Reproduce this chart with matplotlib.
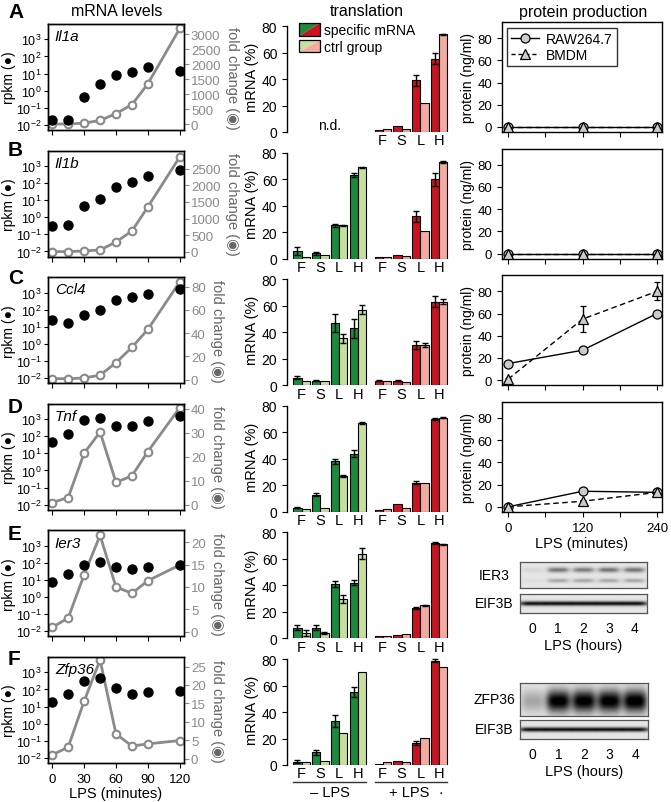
import numpy as np
import matplotlib
matplotlib.use('Agg')
import matplotlib.pyplot as plt
from matplotlib.patches import Polygon, Rectangle, Patch
from matplotlib.legend_handler import HandlerBase
from matplotlib.lines import Line2D
import matplotlib.transforms as mtrans
from matplotlib.ticker import FixedLocator, NullLocator

plt.rcParams['font.family'] = ['Liberation Sans', 'DejaVu Sans']
plt.rcParams['mathtext.default'] = 'regular'
plt.rcParams['axes.linewidth'] = 1.0
plt.rcParams['xtick.major.size'] = 3.5
plt.rcParams['ytick.major.size'] = 3.5

# ---------------- data ----------------
genes = ['Il1a', 'Il1b', 'Ccl4', 'Tnf', 'Ier3', 'Zfp36']
minutes = [0, 15, 30, 45, 60, 75, 90, 120]

rpkm_il1a = [0.02, 0.02, 0.4, 2.5, 8.0, 12, 25, 15]
rpkm_il1b = [0.3, 0.35, 4.5, 12, 60, 110, 250, 600]
rpkm_ccl4 = [25, 17, 50, 100, 350, 530, 800, 1700]
rpkm_tnf = [47, 135, 920, 1140, 390, 425, 810, 1540]
rpkm_ier3 = [7.4, 21, 80, 120, 60, 43, 60, 80]
rpkm_zfp36 = [18, 55, 330, 450, 125, 54, 70, 77]

fold_il1a = [1, 1, 30, 120, 350, 650, 1350, 3200]
fold_il1b = [1, 1, 20, 50, 290, 625, 1350, 2860]
fold_ccl4 = [1, 0.8, 1.5, 3.9, 14.6, 27.8, 43.2, 84]
fold_tnf = [1, 3.1, 21.5, 30.3, 9.4, 12.1, 22.2, 40.4]
fold_ier3 = [1, 3.1, 12.7, 21.5, 10, 8.6, 11.4, 14.9]
fold_zfp36 = [1, 3.1, 15.6, 26.8, 6.7, 3.4, 4.0, 4.9]

rpkm_all = [rpkm_il1a, rpkm_il1b, rpkm_ccl4, rpkm_tnf, rpkm_ier3, rpkm_zfp36]
fold_all = [fold_il1a, fold_il1b, fold_ccl4, fold_tnf, fold_ier3, fold_zfp36]
fold_ticks = [list(range(0, 3001, 500)), list(range(0, 2501, 500)), list(range(0, 81, 20)),
              list(range(0, 41, 10)), list(range(0, 21, 5)), list(range(0, 26, 5))]
fold_ylims = [(-200, 3350), (-150, 3050), (-3, 88), (-2, 42), (-1, 22.6), (-1.2, 27.6)]

fractions = ['F', 'S', 'L', 'H']
spec_minus_lps = [None, [6, 4, 25, 63], [5.8, 3.3, 46.8, 43], [3, 13, 38, 44], [8, 8, 41, 42], [2.5, 9.5, 33, 55]]
spec_minus_err = [None, [3, 1, 1, 1.5], [1, 0.5, 6.8, 7], [0.5, 1, 2, 3], [2, 2, 2, 2], [1, 2, 4.5, 4]]
ctrl_minus_lps = [None, [1.5, 3, 25, 69], [3.3, 3.3, 35.5, 57], [2, 3, 27, 67], [4, 4, 30, 64], [2.5, 3.2, 24.5, 70]]
ctrl_minus_err = [None, [0, 0, 0.5, 0.5], [0, 0, 3.5, 3.5], [0, 0, 1, 1], [2, 1, 3, 4], [0, 0, 0, 0]]
spec_plus_lps = [[1.3, 4.5, 39, 55.3], [1, 3, 32, 60], [3.3, 3.3, 30.2, 63], [1, 6, 22, 70], [2, 2.5, 23, 72], [0.8, 3.2, 16.3, 78.8]]
spec_plus_err = [[0, 0, 4.3, 4.3], [0, 0, 4, 5], [0.5, 0.5, 3, 4], [0, 0, 1, 1], [0, 0, 1, 0.5], [0, 0, 1.5, 1]]
ctrl_plus_lps = [[2, 2.5, 21.9, 73.7], [1.5, 2, 21, 73], [2.8, 2.5, 30.2, 63], [2, 3, 22, 71], [2, 3, 25, 71], [2, 2.5, 20.5, 73.8]]
ctrl_plus_err = [[0, 0, 0, 0.5], [0, 0, 0, 0.5], [0, 0, 1.5, 2], [0, 0, 0, 0.5], [0, 0, 0.5, 0.5], [0, 0, 0, 0]]

protein_min = [0, 120, 240]
raw_protein = [[0, 0, 0], [0, 0, 0], [15, 27, 60], [0, 14, 13]]
raw_err = [[0, 0, 0], [0, 0, 0], [2, 1, 1], [0, 1, 1]]
bmdm_protein = [[0, 0, 0], [0, 0, 0], [1, 55, 80], [0, 5, 13]]
bmdm_err = [[0, 0, 0], [0, 0, 0], [1, 12, 8], [0, 1, 1]]

hours = ['0', '1', '2', '3', '4']
ier3_upper = [0.06, 0.45, 0.42, 0.45, 0.45]
ier3_lower = [0.03, 0.25, 0.25, 0.24, 0.25]
eif3b_1 = [0.85, 0.85, 0.85, 0.85, 0.85]
zfp36_band = [0.25, 0.95, 0.95, 0.95, 0.97]
eif3b_2 = [0.85, 0.85, 0.85, 0.85, 0.85]

# ---------------- style ----------------
GRAY = '#8a8a8a'
DKGREEN = '#1b8a3c'
LTGREEN = '#c6df9c'
DKRED = '#c8141f'
PINK = '#f3aaa2'

W, H = 671, 803
fig = plt.figure(figsize=(W / 100, H / 100), dpi=100)


def add_ax(left, top, width, height):
    return fig.add_axes([left / W, 1 - (top + height) / H, width / W, height / H])


ROW = 126.6
letters = ['A', 'B', 'C', 'D', 'E', 'F']
letter_y = [12, 150, 278, 408, 535, 660]
for L, y in zip(letters, letter_y):
    fig.text(8 / W, 1 - y / H, L, fontsize=15, fontweight='bold', va='center', ha='left')

fig.text(117 / W, 1 - 12 / H, 'mRNA levels', fontsize=11.5, ha='center', va='center')
fig.text(367 / W, 1 - 12 / H, 'translation', fontsize=11.5, ha='center', va='center')
fig.text(583 / W, 1 - 13 / H, 'protein production', fontsize=11.5, ha='center', va='center')

# ---------------- left column ----------------
for r, gene in enumerate(genes):
    ax = add_ax(48, 25 + ROW * r, 136, 106)
    ax.set_yscale('log')
    ax.set_ylim(10 ** -2.3, 10 ** 3.9)
    ax.set_xlim(-4, 124)
    ax.yaxis.set_major_locator(FixedLocator([1e-2, 1e-1, 1e0, 1e1, 1e2, 1e3]))
    ax.yaxis.set_minor_locator(NullLocator())
    ax.set_xticks([0, 30, 60, 90, 120])
    ax.tick_params(axis='y', labelsize=9, length=3, pad=1.5)
    ax.tick_params(axis='x', labelsize=9.5, length=3.5)
    ax2 = ax.twinx()
    ax2.plot(minutes, fold_all[r], '-o', color=GRAY, lw=2, mfc='white', mec=GRAY, mew=1.5, ms=5.5)
    ax2.set_ylim(*fold_ylims[r])
    ax2.set_yticks(fold_ticks[r])
    ax2.tick_params(axis='y', colors=GRAY, labelsize=9.5, length=3.5, pad=1.5)
    ax2.spines['right'].set_color('#555555')
    ax.plot(minutes, rpkm_all[r], 'o', color='k', ms=6.5, zorder=5)
    ax.set_zorder(ax2.get_zorder() + 1)
    ax.patch.set_visible(False)
    ax.set_ylabel('rpkm (●)', fontsize=10, labelpad=0)
    ax2.set_ylabel('fold change (◉)', fontsize=10.5, rotation=270, va='bottom', color='#666666', labelpad=3)
    ax.text(0.05, 0.95, gene, transform=ax.transAxes, style='italic', fontsize=11, va='top', ha='left')
    if r == len(genes) - 1:
        ax.set_xlabel('LPS (minutes)', fontsize=10.5, labelpad=1)
    else:
        ax.set_xticklabels([])


# ---------------- middle column ----------------
class SplitHandler(HandlerBase):
    def __init__(self, c1, c2):
        super().__init__()
        self.c1, self.c2 = c1, c2

    def create_artists(self, legend, orig_handle, xdescent, ydescent, width, height, fontsize, trans):
        x0, y0 = -xdescent, -ydescent
        t1 = Polygon([[x0, y0], [x0, y0 + height], [x0 + width, y0 + height]], closed=True,
                     fc=self.c1, ec='none', transform=trans)
        t2 = Polygon([[x0, y0], [x0 + width, y0], [x0 + width, y0 + height]], closed=True,
                     fc=self.c2, ec='none', transform=trans)
        b = Rectangle((x0, y0), width, height, fc='none', ec='k', lw=0.9, transform=trans)
        return [t1, t2, b]


minus_pos = np.array([0, 1, 2, 3])
plus_pos = np.array([4.3, 5.3, 6.3, 7.3])
bw = 0.43


def draw_bars(ax, pos, spec, serr, ctrl, cerr, cs, cc):
    ax.bar(pos - bw / 2, spec, bw, color=cs, edgecolor='k', lw=0.8)
    ax.bar(pos + bw / 2, ctrl, bw, color=cc, edgecolor='k', lw=0.8)
    for p, v, e in zip(pos - bw / 2, spec, serr):
        if e > 0:
            ax.errorbar(p, v, yerr=e, fmt='none', ecolor='k', elinewidth=1, capsize=2.5, capthick=1)
    for p, v, e in zip(pos + bw / 2, ctrl, cerr):
        if e > 0:
            ax.errorbar(p, v, yerr=e, fmt='none', ecolor='k', elinewidth=1, capsize=2.5, capthick=1)


for r in range(6):
    ax = add_ax(287, 22 + ROW * r, 162, 111)
    ax.set_ylim(0, 83.8)
    ax.set_xlim(-0.77, 7.81)
    for s in ['top', 'right', 'bottom']:
        ax.spines[s].set_visible(False)
    ax.spines['left'].set_bounds(0, 80)
    ax.set_yticks([0, 20, 40, 60, 80])
    ax.tick_params(axis='y', labelsize=10, length=3.5)
    ax.tick_params(axis='x', length=0, labelsize=10.5, pad=1)
    ax.set_ylabel('mRNA (%)', fontsize=10.5, labelpad=2)
    if spec_minus_lps[r] is not None:
        draw_bars(ax, minus_pos, spec_minus_lps[r], spec_minus_err[r], ctrl_minus_lps[r], ctrl_minus_err[r],
                  DKGREEN, LTGREEN)
        ax.set_xticks(list(minus_pos) + list(plus_pos))
        ax.set_xticklabels(fractions + fractions)
    else:
        ax.text(1.5, 5, 'n.d.', ha='center', va='center', fontsize=10)
        ax.set_xticks(list(plus_pos))
        ax.set_xticklabels(fractions)
    draw_bars(ax, plus_pos, spec_plus_lps[r], spec_plus_err[r], ctrl_plus_lps[r], ctrl_plus_err[r],
              DKRED, PINK)
    if r == 0:
        h1, h2 = Patch(), Patch()
        ax.legend([h1, h2], ['specific mRNA', 'ctrl group'],
                  handler_map={h1: SplitHandler(DKGREEN, DKRED), h2: SplitHandler(LTGREEN, PINK)},
                  loc='upper left', bbox_to_anchor=(0.04, 1.03), frameon=False, fontsize=10,
                  handlelength=1.5, handleheight=1.0, handletextpad=0.3, labelspacing=0.2, borderaxespad=0)
    if r == 5:
        tr = mtrans.blended_transform_factory(ax.transData, ax.transAxes)
        ax.plot([minus_pos[0] - bw, minus_pos[-1] + bw], [-0.155, -0.155], color='#333333', lw=1,
                transform=tr, clip_on=False)
        ax.plot([plus_pos[0] - bw, plus_pos[-1] + bw], [-0.155, -0.155], color='#333333', lw=1,
                transform=tr, clip_on=False)
        ax.text(minus_pos.mean(), -0.245, '– LPS', transform=tr, ha='center', va='center', fontsize=10.5)
        ax.text(plus_pos.mean() - 0.1, -0.245, '+ LPS', transform=tr, ha='center', va='center', fontsize=10.5)
        ax.text(plus_pos[-1] + 0.05, -0.245, '·', transform=tr, ha='center', va='center', fontsize=10)

# ---------------- right column: protein ----------------
for r in range(4):
    ax = add_ax(502, 23 + ROW * r, 160, 110)
    ax.set_xlim(-10, 248)
    ax.set_ylim(-4.5, 94.5)
    ax.set_yticks([0, 20, 40, 60, 80])
    ax.xaxis.set_major_locator(FixedLocator([0, 60, 120, 180, 240]))
    ax.tick_params(labelsize=9.5, length=3.5)
    ax.set_ylabel('protein (ng/ml)', fontsize=10, labelpad=2)
    ax.errorbar(protein_min, raw_protein[r], yerr=raw_err[r], color='k', lw=1, ls='-', marker='o',
                ms=6.5, mfc='#cccccc', mec='k', mew=0.9, capsize=2.5, elinewidth=1, zorder=3)
    ax.errorbar(protein_min, bmdm_protein[r], yerr=bmdm_err[r], color='k', lw=1, ls=(0, (4, 2.5)), marker='^',
                ms=7.5, mfc='#cccccc', mec='k', mew=0.9, capsize=2.5, elinewidth=1, zorder=3)
    if r == 3:
        ax.set_xticklabels(['0', '', '120', '', '240'])
        ax.set_xlabel('LPS (minutes)', fontsize=10.5, labelpad=2)
    else:
        ax.set_xticklabels([])
    if r == 0:
        hr = Line2D([], [], color='k', lw=1, marker='o', ms=6.5, mfc='#cccccc', mec='k', mew=0.9)
        hb = Line2D([], [], color='k', lw=1, ls=(0, (3, 2)), marker='^', ms=7.5, mfc='#cccccc', mec='k', mew=0.9)
        leg = ax.legend([hr, hb], ['RAW264.7', 'BMDM'], loc='upper left', bbox_to_anchor=(0.03, 0.95),
                        fontsize=10, frameon=True, fancybox=False, edgecolor='k', handlelength=2.0,
                        borderaxespad=0, labelspacing=0.15, borderpad=0.3, handletextpad=0.5)
        leg.get_frame().set_linewidth(1.0)

# ---------------- western blots ----------------
lane_pos = [0.1, 0.3, 0.5, 0.7, 0.9]


def blot_image(bands, width=220, height=50, bg=0.9):
    x = np.linspace(0, 1, width)[None, :]
    y = np.linspace(0, 1, height)[:, None]
    img = np.full((height, width), bg)
    for yc, sy, sx, intens in bands:
        for c, v in zip(lane_pos, intens):
            lane = np.exp(-((x - c) / sx) ** 4)
            band = np.exp(-((y - yc) / sy) ** 2)
            img = img - v * band * lane
    return np.clip(img, 0, 1)


def blot_axes(left, top, width, height, bands, label, bg=0.9):
    ax = add_ax(left, top, width, height)
    ax.imshow(blot_image(bands, bg=bg), cmap='gray', vmin=0, vmax=1, aspect='auto', extent=(0, 1, 0, 1),
              interpolation='bilinear')
    ax.set_xlim(0, 1)
    ax.set_ylim(0, 1)
    ax.set_yticks([])
    ax.set_xticks([])
    for s in ax.spines.values():
        s.set_color('#555555')
        s.set_linewidth(0.9)
    ax.text((494 - left) / width, 0.5, label, transform=ax.transAxes, ha='center', va='center', fontsize=10)
    return ax


blot_axes(520, 563, 127, 26, [(0.3, 0.1, 0.085, ier3_upper), (0.72, 0.08, 0.085, ier3_lower)], 'IER3', bg=0.9)
b1 = blot_axes(520, 595, 127, 19, [(0.5, 0.12, 0.11, eif3b_1)], 'EIF3B', bg=0.9)
b1.set_xticks(lane_pos)
b1.set_xticklabels(hours)
b1.tick_params(axis='x', length=0, labelsize=10, pad=6)
b1.set_xlabel('LPS (hours)', fontsize=10.5, labelpad=2)

blot_axes(520, 684, 128, 33, [(0.55, 0.34, 0.095, zfp36_band)], 'ZFP36', bg=0.9)
b2 = blot_axes(520, 721, 128, 19, [(0.5, 0.12, 0.11, eif3b_2)], 'EIF3B', bg=0.9)
b2.set_xticks(lane_pos)
b2.set_xticklabels(hours)
b2.tick_params(axis='x', length=0, labelsize=10, pad=6)
b2.set_xlabel('LPS (hours)', fontsize=10.5, labelpad=2)

fig.savefig('out.png', dpi=100)
